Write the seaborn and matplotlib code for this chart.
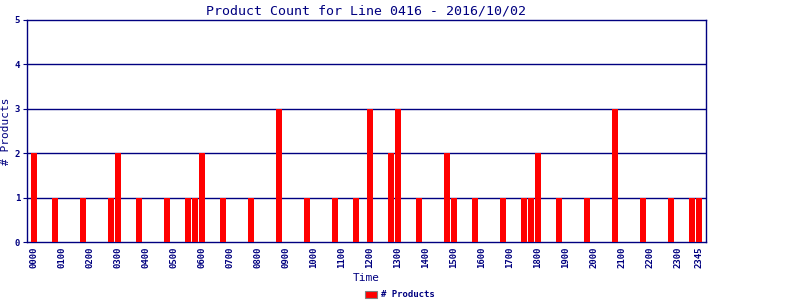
import matplotlib
matplotlib.use("Agg")
import matplotlib.pyplot as plt
import seaborn as sns
import pandas as pd
from matplotlib.patches import Patch

times = ["0000", "0045", "0145", "0245", "0300", "0345", "0445", "0530", "0545",
         "0600", "0645", "0745", "0845", "0945", "1045", "1130", "1200", "1245",
         "1300", "1345", "1445", "1500", "1545", "1645", "1730", "1745", "1800",
         "1845", "1945", "2045", "2145", "2245", "2330", "2345"]
counts = [2, 1, 1, 1, 2, 1, 1, 1, 1,
          2, 1, 1, 3, 1, 1, 1, 3, 2,
          3, 1, 2, 1, 1, 1, 1, 1, 2,
          1, 1, 3, 1, 1, 1, 1]
tick_labels = ["0000", "0100", "0200", "0300", "0400", "0500", "0600", "0700",
               "0800", "0900", "1000", "1100", "1200", "1300", "1400", "1500",
               "1600", "1700", "1800", "1900", "2000", "2100", "2200", "2300", "2345"]

title = "Product Count for Line 0416 - 2016/10/02"
navy = "#000080"

all_slots = [f"{h:02d}{m:02d}" for h in range(24) for m in (0, 15, 30, 45)]
df = pd.DataFrame({"Time": times, "Products": counts})

sns.set_theme(style="white")
plt.rcParams["font.family"] = ["DejaVu Sans Mono"]

fig = plt.figure(figsize=(8, 3), dpi=100)
ax = fig.add_axes([27 / 800, 1 - 242 / 300, (706 - 27) / 800, (242 - 20) / 300])

sns.barplot(data=df, x="Time", y="Products", order=all_slots, color="#ff0000",
            saturation=1, width=0.82, ax=ax, zorder=3, linewidth=0, edgecolor="none")

ax.set_xlim(-1, 96)
ax.set_ylim(0, 5)
ax.set_yticks([0, 1, 2, 3, 4, 5])
ax.set_yticklabels(["0", "1", "2", "3", "4", "5"], fontsize=6.5, color=navy, fontweight="bold")
pos = [all_slots.index(t) for t in tick_labels]
ax.set_xticks(pos)
ax.set_xticklabels(tick_labels, rotation=90, fontsize=6.5, color=navy, fontweight="bold")
ax.tick_params(axis="y", length=3, width=0.8, color=navy, pad=2, left=True)
ax.tick_params(axis="x", length=0, pad=3)

for y in [1, 2, 3, 4]:
    ax.axhline(y, color=navy, lw=1.0, zorder=1)
for s in ax.spines.values():
    s.set_color(navy)
    s.set_linewidth(1.0)
    s.set_visible(True)

ax.set_title(title, fontsize=9.5, color=navy, pad=4)
ax.set_xlabel("Time", fontsize=8, color=navy, labelpad=4)
ax.set_ylabel("# Products", fontsize=8, color=navy, labelpad=3)

handle = Patch(facecolor="#ff0000", edgecolor="#808080", linewidth=0.8)
fig.legend([handle], ["# Products"], loc="lower center", bbox_to_anchor=(0.5, -0.025),
           frameon=False, prop={"size": 6.5, "weight": "bold"},
           handlelength=1.3, handleheight=0.9, handletextpad=0.4,
           labelcolor=navy)

fig.savefig("out.png", dpi=100)
